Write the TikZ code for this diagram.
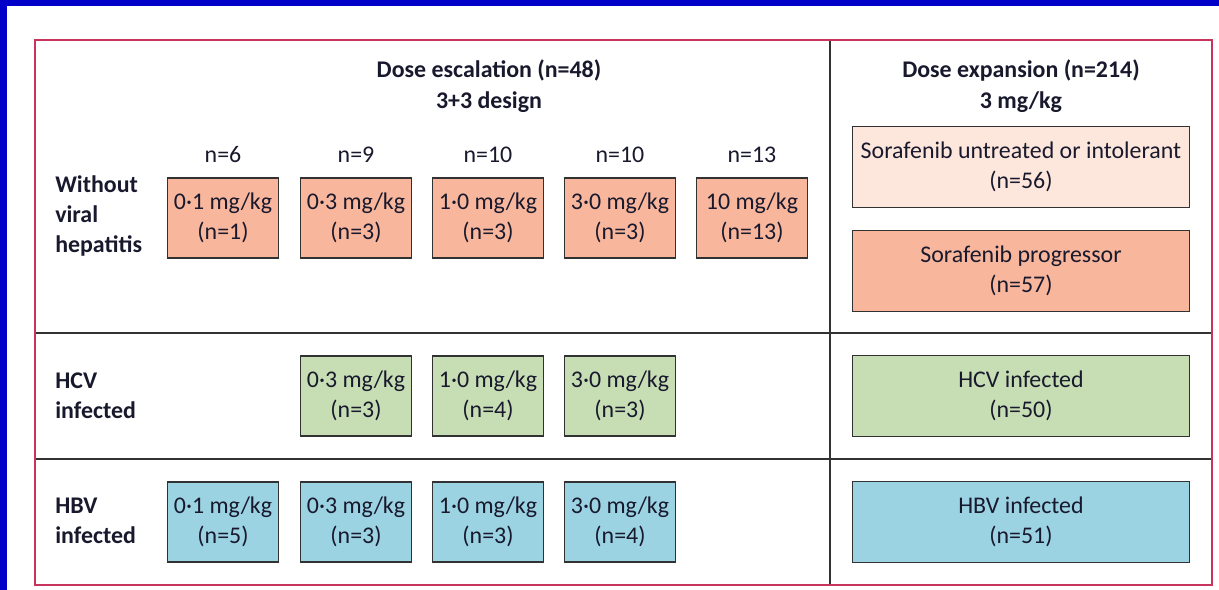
\documentclass[tikz,border=0pt]{standalone}
\usepackage{fontspec}
\setmainfont{Carlito}
\usetikzlibrary{positioning}
\definecolor{slideBlue}{RGB}{0,0,200}
\definecolor{frameRed}{RGB}{200,52,92}
\definecolor{lineGray}{RGB}{50,50,50}
\definecolor{inkText}{RGB}{25,25,45}
\definecolor{salmon}{RGB}{248,182,156}
\definecolor{peach}{RGB}{253,230,219}
\definecolor{sage}{RGB}{199,222,180}
\definecolor{sky}{RGB}{155,211,227}
\tikzset{doseBox/.style={shape=rectangle, align=center, draw=lineGray, line width=0.8pt, inner sep=0pt, minimum width=2.775cm, minimum height=2cm, text=inkText, font=\fontsize{17}{21.3}\selectfont}}
\tikzset{expansionBox/.style={doseBox, minimum width=8.425cm, minimum height=2.025cm}}
\tikzset{headerNode/.style={shape=rectangle, align=center, inner sep=0pt, text=inkText, font=\bfseries\fontsize{17}{22.5}\selectfont}}
\tikzset{rowLabel/.style={shape=rectangle, align=left, anchor=west, inner sep=0pt, text=inkText, font=\bfseries\fontsize{17}{21.3}\selectfont}}
\tikzset{countNode/.style={shape=rectangle, inner sep=0pt, text=inkText, font=\fontsize{17}{21.3}\selectfont}}

\begin{document}
\begin{tikzpicture}[x=0.025cm, y=-0.025cm]

\useasboundingbox (0,0) rectangle (1219,590);
% slide background
\fill[slideBlue] (0,0) rectangle (1219,590);
\fill[white] (7,6) rectangle (1219,590);

% table frame and rules
\coordinate (tl) at (35,40);
\coordinate (br) at (1212,585);
\coordinate (colTop) at (830,40);
\coordinate (colBot) at (830,585);
\coordinate (r1l) at (35,333);
\coordinate (r1r) at (1212,333);
\coordinate (r2l) at (35,459);
\coordinate (r2r) at (1212,459);
\draw[lineGray, line width=0.9pt] (colTop) -- (colBot);
\draw[lineGray, line width=0.9pt] (r1l) -- (r1r);
\draw[lineGray, line width=0.9pt] (r2l) -- (r2r);
\draw[frameRed, line width=1.2pt] (tl) rectangle (br);

% headers
\node[headerNode] (escHead) at (489,86) {Dose escalation (n=48)\\3+3 design};
\node[headerNode] (expHead) at (1021,86) {Dose expansion (n=214)\\3 mg/kg};

% row labels
\node[rowLabel] (rowNone) at (55,216) {Without\\viral\\hepatitis};
\node[rowLabel] (rowHCV) at (55,396) {HCV\\infected};
\node[rowLabel] (rowHBV) at (55,521) {HBV\\infected};

% cohort sizes
\node[countNode] (n1) at (223,155) {n=6};
\node[countNode] (n2) at (356,155) {n=9};
\node[countNode] (n3) at (488,155) {n=10};
\node[countNode] (n4) at (620,155) {n=10};
\node[countNode] (n5) at (752,155) {n=13};

% Dose escalation, without viral hepatitis
\node[doseBox, fill=salmon] (e11) at (223,218) {0·1 mg/kg\\(n=1)};
\node[doseBox, fill=salmon] (e12) at (356,218) {0·3 mg/kg\\(n=3)};
\node[doseBox, fill=salmon] (e13) at (488,218) {1·0 mg/kg\\(n=3)};
\node[doseBox, fill=salmon] (e14) at (620,218) {3·0 mg/kg\\(n=3)};
\node[doseBox, fill=salmon] (e15) at (752,218) {10 mg/kg\\(n=13)};

% Dose escalation, HCV
\node[doseBox, fill=sage] (e22) at (356,396) {0·3 mg/kg\\(n=3)};
\node[doseBox, fill=sage] (e23) at (488,396) {1·0 mg/kg\\(n=4)};
\node[doseBox, fill=sage] (e24) at (620,396) {3·0 mg/kg\\(n=3)};

% Dose escalation, HBV
\node[doseBox, fill=sky] (e31) at (223,522) {0·1 mg/kg\\(n=5)};
\node[doseBox, fill=sky] (e32) at (356,522) {0·3 mg/kg\\(n=3)};
\node[doseBox, fill=sky] (e33) at (488,522) {1·0 mg/kg\\(n=3)};
\node[doseBox, fill=sky] (e34) at (620,522) {3·0 mg/kg\\(n=4)};

% Dose expansion
\node[expansionBox, fill=peach] (x1) at (1021,167) {Sorafenib untreated or intolerant\\(n=56)};
\node[expansionBox, fill=salmon] (x2) at (1021,271) {Sorafenib progressor\\(n=57)};
\node[expansionBox, fill=sage] (x3) at (1021,396) {HCV infected\\(n=50)};
\node[expansionBox, fill=sky] (x4) at (1021,522) {HBV infected\\(n=51)};

\end{tikzpicture}
\end{document}
